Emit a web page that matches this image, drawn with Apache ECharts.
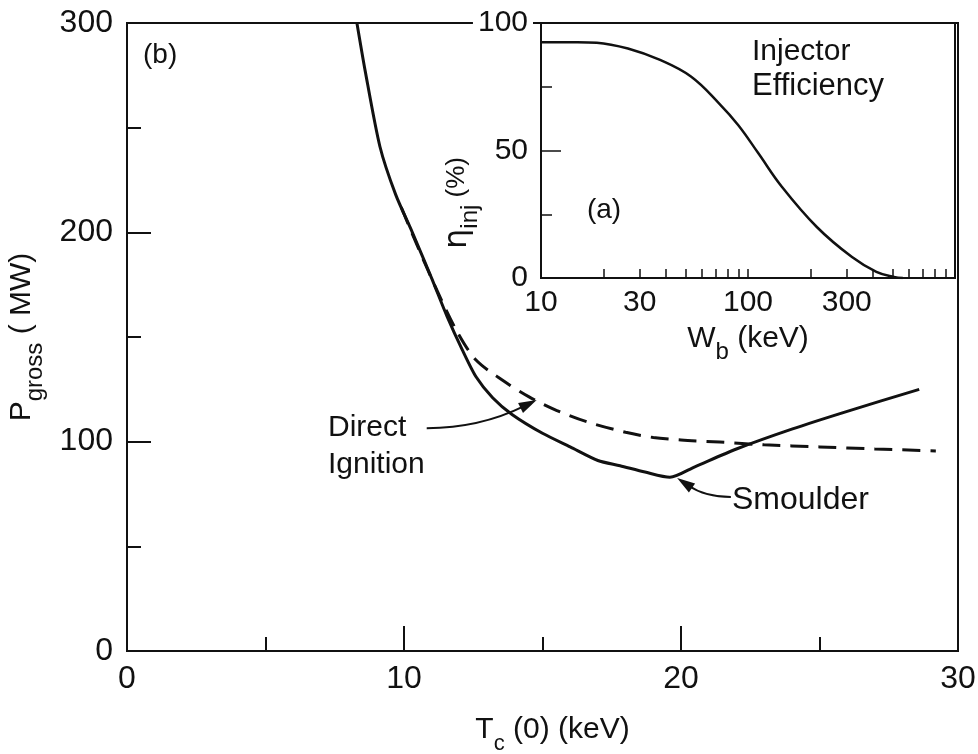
<!DOCTYPE html>
<html><head><meta charset="utf-8">
<script src="https://cdn.jsdelivr.net/npm/echarts@6/dist/echarts.min.js"></script>
<style>html,body{margin:0;padding:0;background:#fff}#c{width:978px;height:754px}</style>
</head><body><div id="c"></div>
<script>
// Main panel (b): P_gross (MW) vs T_c(0) (keV)
const smoulderT = [8.3, 8.6, 9.13, 9.7, 10.3, 11.0, 11.55, 12.1, 12.6, 13.2, 13.9, 15.0, 16.0, 17.0, 17.8, 18.7, 19.6, 20.5, 22.0, 24.0, 26.0, 28.6];
const smoulderP = [300, 277, 241, 218, 200, 178, 160, 144, 131, 121, 113, 104, 97.5, 91, 88.5, 85.5, 83, 88, 96.5, 106, 114.5, 125];
const directT = [9.9, 10.5, 11.2, 11.9, 12.6, 13.6, 14.5, 15.5, 16.6, 18.0, 19.0, 20.0, 21.4, 23.0, 25.0, 27.0, 29.2];
const directP = [212, 193, 172, 153, 139, 129, 121.5, 115, 109.5, 104.5, 102, 100.8, 99.8, 98.5, 97.5, 96.5, 95.6];
// Inset (a): injector efficiency vs beam energy
const beamW = [10, 15, 18.6, 26.3, 37.6, 53, 72.4, 89.6, 112, 146, 215, 318, 417, 507, 560];
const etaInj = [92.5, 92.5, 92.3, 90, 85.5, 79, 68.5, 60, 49, 35.7, 20, 8.2, 2.4, 0.4, 0];
// Tick labels
const mainXTicks = [0, 10, 20, 30];
const mainYTicks = [0, 100, 200, 300];
const insetXLabels = [10, 30, 100, 300];
const insetXTicks = [10, 20, 30, 40, 50, 60, 70, 80, 90, 100, 200, 300, 400, 500, 600, 700, 800, 900, 1000];
const insetYTicks = [0, 50, 100];

const zip = (a, b) => a.map((v, i) => [v, b[i]]);
const INK = '#111';
const FONT = 'Liberation Sans';

const chart = echarts.init(document.getElementById('c'), null, {renderer: 'canvas'});

const subRich = (big, small) => ({
  a: {fontSize: big, color: INK, fontFamily: FONT, verticalAlign: 'bottom', padding: [0, 0, 10, 0]},
  b: {fontSize: small, color: INK, fontFamily: FONT, verticalAlign: 'bottom'}
});

const option = {
  animation: false,
  backgroundColor: '#fff',
  grid: [
    {left: 127, right: 20, top: 23, bottom: 103, outerBoundsMode: 'none', containLabel: false,
      show: true, borderColor: INK, borderWidth: 2, backgroundColor: 'transparent'},
    {left: 541, right: 23, top: 23, bottom: 476, outerBoundsMode: 'none', containLabel: false,
      show: true, borderColor: INK, borderWidth: 2, backgroundColor: '#fff'}
  ],
  xAxis: [
    {
      gridIndex: 0, type: 'value', min: mainXTicks[0], max: mainXTicks[mainXTicks.length - 1], interval: 10,
      axisLine: {show: true, lineStyle: {color: INK, width: 2}},
      axisTick: {show: true, inside: true, length: 25, lineStyle: {color: INK, width: 2}},
      minorTick: {show: true, splitNumber: 2, length: 14, lineStyle: {color: INK, width: 2}},
      splitLine: {show: false},
      axisLabel: {fontSize: 32, color: INK, fontFamily: FONT, margin: 12},
      name: '{a|T}{b|c}{a| (0) (keV)}', nameLocation: 'middle', nameGap: 64,
      nameTextStyle: {rich: subRich(30, 22), padding: [0, 0, 0, 20]}
    },
    {
      gridIndex: 1, type: 'log', logBase: 10, min: 10, max: 1000,
      axisLine: {show: true, lineStyle: {color: INK, width: 2}},
      axisTick: {show: true, inside: true, length: 9, customValues: insetXTicks, lineStyle: {color: INK, width: 1.5}},
      minorTick: {show: false},
      splitLine: {show: false},
      axisLabel: {fontSize: 30, color: INK, fontFamily: FONT, margin: 10, customValues: insetXLabels},
      name: '{a|W}{b|b}{a| (keV)}', nameLocation: 'middle', nameGap: 46,
      nameTextStyle: {rich: subRich(30, 24)}
    }
  ],
  yAxis: [
    {
      gridIndex: 0, type: 'value', min: mainYTicks[0], max: mainYTicks[mainYTicks.length - 1], interval: 100,
      axisLine: {show: true, lineStyle: {color: INK, width: 2}},
      axisTick: {show: true, inside: true, length: 24, lineStyle: {color: INK, width: 2}},
      minorTick: {show: true, splitNumber: 2, length: 14, lineStyle: {color: INK, width: 2}},
      splitLine: {show: false},
      axisLabel: {fontSize: 32, color: INK, fontFamily: FONT, margin: 14},
      name: '{a|P}{b|gross}{a| ( MW)}', nameLocation: 'middle', nameRotate: 90, nameGap: 80,
      nameTextStyle: {rich: subRich(30, 24)}
    },
    {
      gridIndex: 1, type: 'value', min: insetYTicks[0], max: insetYTicks[insetYTicks.length - 1], interval: 50,
      axisLine: {show: true, lineStyle: {color: INK, width: 2}},
      axisTick: {show: true, inside: true, length: 20, lineStyle: {color: INK, width: 1.5}},
      minorTick: {show: true, splitNumber: 2, length: 11, lineStyle: {color: INK, width: 1.5}},
      splitLine: {show: false},
      axisLabel: {fontSize: 30, color: INK, fontFamily: FONT, margin: 8, backgroundColor: '#fff', padding: [2, 5]}
    }
  ],
  series: [
    {
      name: 'Smoulder', type: 'line', xAxisIndex: 0, yAxisIndex: 0, data: zip(smoulderT, smoulderP),
      showSymbol: false, symbol: 'none', smooth: 0.25, lineStyle: {color: INK, width: 3}, z: 3
    },
    {
      name: 'Direct Ignition', type: 'line', xAxisIndex: 0, yAxisIndex: 0, data: zip(directT, directP),
      showSymbol: false, symbol: 'none', smooth: 0.3, lineStyle: {color: INK, width: 3, type: [18, 10]}, z: 2
    },
    {
      name: 'Injector Efficiency', type: 'line', xAxisIndex: 1, yAxisIndex: 1, data: zip(beamW, etaInj),
      showSymbol: false, symbol: 'none', smooth: 0.4, lineStyle: {color: INK, width: 2.5}, z: 3
    }
  ]
};
chart.setOption(option);

// Annotation arrows anchored in data coordinates of panel (b)
function px(pt) { return chart.convertToPixel({xAxisIndex: 0, yAxisIndex: 0}, pt); }
function arrow(start, ctrl, end) {
  const a = px(start), c = px(ctrl), e = px(end);
  const dx = e[0] - c[0], dy = e[1] - c[1], L = Math.hypot(dx, dy);
  const ux = dx / L, uy = dy / L, len = 18, hw = 5.5;
  const bx = e[0] - ux * len, by = e[1] - uy * len;
  return [
    {type: 'bezierCurve', shape: {x1: a[0], y1: a[1], cpx1: c[0], cpy1: c[1], x2: bx + ux * 4, y2: by + uy * 4},
      style: {stroke: INK, lineWidth: 2, fill: null}, z: 10},
    {type: 'polygon', shape: {points: [[e[0], e[1]], [bx - uy * hw, by + ux * hw], [bx + uy * hw, by - ux * hw]]},
      style: {fill: INK}, z: 10}
  ];
}
const txt = (x, y, text, size, extra) => Object.assign({
  type: 'text', x: x, y: y, z: 10,
  style: Object.assign({text: text, fontSize: size, fontFamily: FONT, fill: INK, align: 'left', verticalAlign: 'middle'}, extra || {})
});

const graphics = [].concat(
  arrow([10.82, 106.4], [12.74, 106.5], [14.79, 119.9]),
  arrow([21.8, 73.6], [20.87, 73.6], [19.86, 82.7]),
  [
    txt(143, 55, '(b)', 28),
    txt(328, 428, 'Direct', 30),
    txt(328, 465, 'Ignition', 30),
    txt(732, 500, 'Smoulder', 32),
    txt(604, 210, '(a)', 28, {align: 'center'}),
    txt(752, 52, 'Injector', 30),
    txt(752, 86, 'Efficiency', 31),
    {
      type: 'text', x: 462, y: 203, rotation: Math.PI / 2, z: 10,
      style: {
        text: '{e|η}{b|inj}{a| (%)}', align: 'center', verticalAlign: 'middle',
        rich: {
          e: {fontSize: 32, fill: INK, fontFamily: 'DejaVu Sans', verticalAlign: 'bottom', padding: [0, 0, 8, 0]},
          a: {fontSize: 26, fill: INK, fontFamily: FONT, verticalAlign: 'bottom', padding: [0, 0, 12, 0]},
          b: {fontSize: 24, fill: INK, fontFamily: FONT, verticalAlign: 'bottom'}
        }
      }
    }
  ]
);
chart.setOption({graphic: graphics});
</script>
</body></html>
